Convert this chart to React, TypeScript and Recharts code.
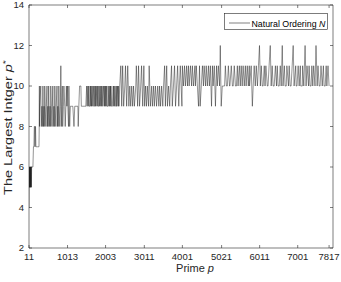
import React from 'react';
import { LineChart, Line, XAxis, YAxis, Legend } from 'recharts';

// ---- data (prime p, largest integer p*) ----
const primesStart = [11, 13, 17, 19, 23, 29, 31, 37, 41, 43, 47, 53, 59, 61, 67, 71, 73, 79, 83, 89, 97, 101, 103, 107, 109, 113];
const valuesStart = [4, 5, 6, 5, 5, 6, 5, 6, 5, 6, 5, 6, 6, 5, 6, 6, 5, 6, 6, 6, 6, 6, 6, 6, 6, 6];

const primesSeven = [127, 131, 137, 139, 149, 151, 157, 163, 167, 173, 179, 181, 191, 193, 197, 199, 211, 223, 227, 229, 233, 239, 241, 251, 257, 263, 269, 271, 277, 281, 283];
const valuesSeven = [7, 7, 7, 7, 8, 8, 8, 8, 7, 8, 8, 8, 7, 7, 7, 7, 7, 7, 7, 7, 7, 7, 7, 7, 7, 7, 7, 7, 8, 10, 8];

const primesEight = [293, 317, 331, 347, 359, 373, 389, 401, 409, 421, 433, 449, 461, 479, 487, 503, 509, 523, 541, 557, 569, 577, 593, 607, 619, 631, 643, 659, 673, 683, 691, 709, 719, 739, 751, 761, 773, 787, 797, 811, 827, 839, 853, 863];
const valuesEight = [9, 10, 8, 9, 8, 10, 8, 9, 8, 10, 9, 8, 9, 10, 8, 9, 8, 10, 8, 9, 8, 10, 9, 8, 9, 10, 8, 9, 8, 10, 9, 8, 9, 10, 8, 9, 8, 10, 9, 8, 9, 11, 8, 9];

const primesNine = [877, 887, 907, 919, 941, 953, 971, 983, 997, 1013, 1021, 1039, 1049, 1069, 1087, 1097, 1123, 1151, 1181, 1201, 1231, 1259, 1283, 1291, 1307, 1327, 1361, 1373, 1409, 1439, 1459, 1489];
const valuesNine = [10, 8, 9, 10, 9, 8, 9, 10, 9, 10, 9, 8, 10, 8, 9, 9, 9, 9, 8, 9, 9, 9, 9, 8, 9, 10, 10, 9, 9, 9, 9, 9];

const primesBand = [1511, 1523, 1543, 1553, 1567, 1579, 1597, 1607, 1619, 1627, 1637, 1657, 1669, 1693, 1697, 1709, 1723, 1733, 1747, 1753, 1777, 1787, 1801, 1811, 1823, 1831, 1847, 1861, 1877, 1889, 1901, 1913, 1931, 1933, 1951, 1973, 1979, 1993, 2003, 2017, 2029, 2039, 2063, 2069, 2089, 2099, 2111, 2129, 2137, 2143, 2161, 2179, 2203, 2213, 2221, 2239, 2251, 2269, 2281, 2293, 2297, 2311, 2333, 2341, 2351];
const valuesBand = [10, 9, 10, 9, 10, 9, 9, 10, 9, 10, 9, 10, 9, 10, 9, 9, 10, 9, 10, 9, 10, 9, 10, 9, 9, 10, 9, 10, 9, 10, 9, 10, 9, 9, 10, 9, 10, 9, 10, 9, 10, 9, 9, 10, 9, 10, 9, 10, 9, 10, 9, 9, 10, 9, 10, 9, 10, 9, 9, 10, 9, 10, 9, 10, 9];

const primesMid = [2371, 2399, 2423, 2447, 2473, 2503, 2521, 2551, 2579, 2609, 2633, 2657, 2683, 2707, 2731, 2753, 2789, 2803, 2837, 2861, 2887, 2917, 2939, 2969, 2999, 3019, 3041, 3067, 3089, 3121, 3137, 3169, 3203, 3221, 3253, 3271, 3301, 3329, 3359, 3389, 3407, 3433, 3461, 3491, 3511, 3539, 3559, 3593, 3613, 3643, 3671, 3691, 3719, 3739, 3769, 3797, 3823, 3851, 3877, 3907, 3923, 3947, 3989];
const valuesMid = [10, 11, 9, 11, 9, 10, 11, 9, 11, 9, 10, 9, 10, 9, 10, 9, 10, 11, 9, 11, 9, 10, 11, 9, 11, 9, 10, 9, 10, 9, 11, 9, 10, 9, 10, 9, 10, 9, 10, 9, 10, 9, 10, 9, 10, 11, 9, 11, 9, 10, 9, 10, 11, 9, 10, 11, 9, 10, 11, 9, 10, 11, 9];

const primesHigh = [4001, 4027, 4057, 4079, 4111, 4133, 4159, 4177, 4211, 4241, 4261, 4289, 4327, 4339, 4363, 4391, 4421, 4447, 4463, 4493, 4523, 4549, 4567, 4603, 4621, 4651, 4679, 4703, 4729, 4759, 4783, 4801, 4831, 4861, 4889, 4909, 4937, 4969, 4987, 5011];
const valuesHigh = [11, 10, 11, 10, 11, 10, 11, 10, 11, 10, 11, 10, 11, 10, 11, 10, 9, 11, 9, 10, 11, 10, 11, 10, 11, 10, 11, 10, 11, 9, 11, 10, 11, 9, 11, 10, 11, 10, 12, 9];

const primesTop = [5039, 5059, 5099, 5119, 5147, 5171, 5197, 5227, 5237, 5273, 5303, 5323, 5351, 5381, 5407, 5431, 5449, 5483, 5507, 5531, 5557, 5581, 5611, 5639, 5659, 5689, 5717, 5741, 5749, 5791, 5821, 5843, 5869, 5897, 5923, 5953, 5981, 6007, 6029, 6053, 6079, 6101, 6131, 6151, 6173, 6211, 6229, 6257, 6287, 6311, 6337, 6361, 6389, 6421, 6449, 6469, 6491, 6521, 6547, 6571, 6599, 6619, 6653, 6673, 6703, 6719, 6761, 6779, 6803, 6829, 6857, 6883, 6907, 6949, 6961, 6983, 7013, 7039, 7069, 7079, 7121, 7129, 7159, 7193, 7219, 7243, 7283, 7297, 7321, 7349, 7369, 7393, 7417, 7451, 7477, 7507, 7529, 7559, 7583, 7607, 7639, 7669, 7687, 7717, 7741, 7759, 7789, 7817];
const valuesTop = [10, 10, 10, 11, 10, 10, 11, 10, 10, 11, 10, 10, 11, 10, 10, 11, 10, 11, 10, 11, 10, 11, 10, 11, 10, 11, 10, 11, 10, 11, 9, 10, 11, 10, 11, 10, 11, 12, 10, 11, 10, 10, 11, 10, 11, 10, 10, 11, 12, 10, 11, 10, 10, 11, 10, 11, 10, 10, 11, 10, 12, 10, 11, 10, 10, 11, 10, 11, 10, 10, 11, 12, 10, 11, 10, 10, 11, 10, 11, 10, 10, 11, 10, 12, 10, 11, 10, 11, 10, 10, 11, 10, 11, 10, 12, 10, 11, 10, 10, 11, 10, 11, 10, 10, 11, 10, 11, 10];

const xTicks = [11, 1013, 2003, 3011, 4001, 5021, 6011, 7001, 7817];
const yTicks = [2, 4, 6, 8, 10, 12, 14];

const primes = [...primesStart, ...primesSeven, ...primesEight, ...primesNine, ...primesBand, ...primesMid, ...primesHigh, ...primesTop];
const largest = [...valuesStart, ...valuesSeven, ...valuesEight, ...valuesNine, ...valuesBand, ...valuesMid, ...valuesHigh, ...valuesTop];
const data = primes.map((p, i) => ({ p, v: largest[i] }));

const FONT = "'Liberation Sans', Arial, Helvetica, sans-serif";
const AX = '#262626';
const axisLine = { stroke: AX, strokeWidth: 0.6 };
const tickStyle = { fill: AX, fontSize: 9.5, fontFamily: FONT };

const LegendBox = () => (
  <svg width={104} height={17} style={{ display: 'block' }}>
    <rect x={0.5} y={0.5} width={103} height={16} fill="#fff" stroke={AX} strokeWidth={0.6} />
    <line x1={5} x2={26} y1={10} y2={10} stroke="#000" strokeWidth={0.5} />
    <text x={27.5} y={13.5} fontSize={8.8} fontFamily={FONT} fill="#000">
      Natural Ordering <tspan fontStyle="italic">N</tspan>
    </text>
  </svg>
);

export default function App() {
  return (
    <div style={{ position: 'relative', width: 341, height: 282, background: '#fff' }}>
      <style>{`body{margin:0;background:#fff}`}</style>
      <LineChart width={341} height={282} data={data} margin={{ top: 4, right: 0, bottom: 0, left: 0 }}>
        <XAxis
          dataKey="p"
          type="number"
          domain={[11, 7919]}
          ticks={xTicks}
          interval={0}
          allowDataOverflow
          height={34}
          tickSize={-3}
          tickMargin={8}
          axisLine={axisLine}
          tickLine={axisLine}
          tick={tickStyle}
        />
        <XAxis
          xAxisId="top"
          orientation="top"
          dataKey="p"
          type="number"
          domain={[11, 7919]}
          ticks={xTicks}
          interval={0}
          allowDataOverflow
          height={1}
          tickSize={-3}
          axisLine={axisLine}
          tickLine={axisLine}
          tickFormatter={() => ''}
        />
        <YAxis
          domain={[2, 14]}
          ticks={yTicks}
          interval={0}
          allowDataOverflow
          width={29}
          tickSize={-3}
          tickMargin={8}
          axisLine={axisLine}
          tickLine={axisLine}
          tick={tickStyle}
        />
        <YAxis
          yAxisId="right"
          orientation="right"
          domain={[2, 14]}
          ticks={yTicks}
          interval={0}
          allowDataOverflow
          width={8}
          tickSize={-3}
          axisLine={axisLine}
          tickLine={axisLine}
          tickFormatter={() => ''}
        />
        <Legend
          layout="vertical"
          align="center"
          verticalAlign="middle"
          wrapperStyle={{ left: 224, top: 13, width: 104, height: 17 }}
          content={() => <LegendBox />}
        />
        <Line
          type="linear"
          dataKey="v"
          name="Natural Ordering N"
          stroke="#111"
          strokeWidth={0.45}
          dot={false}
          activeDot={false}
          isAnimationActive={false}
        />
      </LineChart>
      <svg width={341} height={282} style={{ position: 'absolute', left: 0, top: 0, pointerEvents: 'none' }}>
        <text
          transform="translate(11.5,127.5) rotate(-90)"
          textAnchor="middle"
          fontSize={11}
          fontFamily={FONT}
          fill={AX}
          textLength={135}
          lengthAdjust="spacingAndGlyphs"
        >
          The Largest Intger <tspan fontStyle="italic">p</tspan>
          <tspan fontSize={8} dy={-4}>*</tspan>
        </text>
        <text x={195} y={272} textAnchor="middle" fontSize={11} fontFamily={FONT} fill={AX}>
          Prime <tspan fontStyle="italic">p</tspan>
        </text>
      </svg>
    </div>
  );
}
